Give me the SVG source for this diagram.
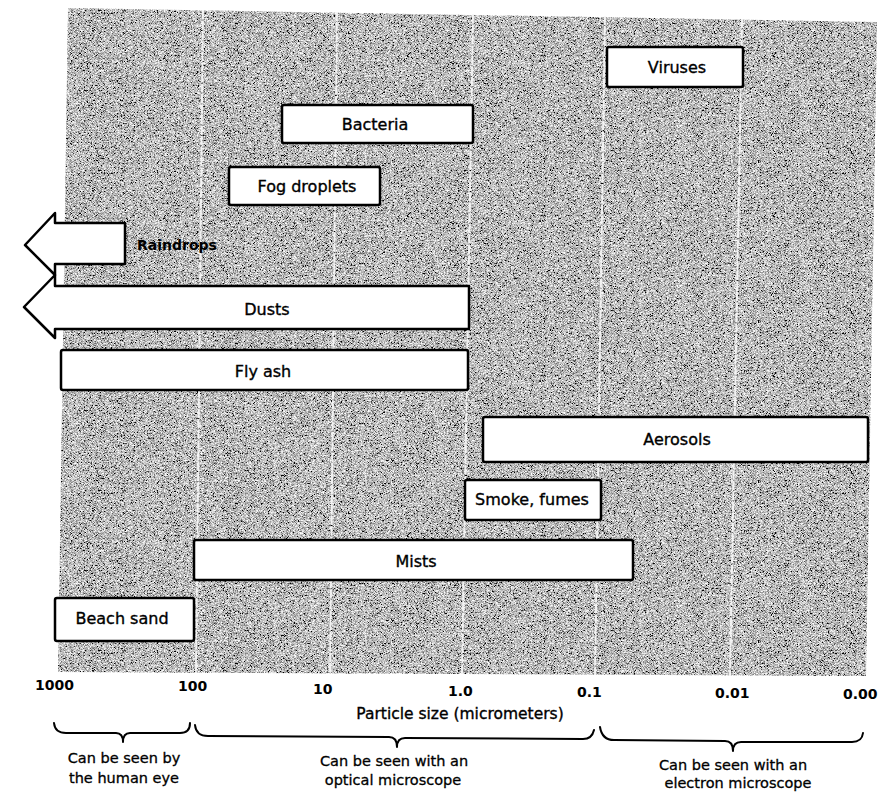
<svg xmlns="http://www.w3.org/2000/svg" width="881" height="795" viewBox="0 0 881 795">
<defs>
<filter id="grain" x="0" y="0" width="1" height="1" filterUnits="objectBoundingBox">
<feTurbulence type="fractalNoise" baseFrequency="0.7 1.6" numOctaves="2" seed="7" result="n"/>
<feColorMatrix in="n" type="matrix" values="2.1 0 0 0 -0.56  2.1 0 0 0 -0.56  2.1 0 0 0 -0.56  0 0 0 0 1" result="g"/>
<feComposite in="g" in2="SourceGraphic" operator="in"/>
</filter>
<style>
.bar{fill:#fff;stroke:#000;stroke-width:2.5;stroke-linejoin:round}
.lbl{font-family:"DejaVu Sans",Verdana,sans-serif;font-size:16px;fill:#000;stroke:#000;stroke-width:0.35;text-anchor:middle}
.num{font-family:"DejaVu Sans",Verdana,sans-serif;font-size:14px;font-weight:bold;fill:#000}
.cap{font-family:"DejaVu Sans",Verdana,sans-serif;font-size:14.5px;fill:#000;stroke:#000;stroke-width:0.3;text-anchor:middle}
.grid{stroke:#f6f6f6;stroke-width:2;opacity:0.95;stroke-dasharray:9 1.5}
.brace{fill:none;stroke:#000;stroke-width:2;stroke-linecap:round;stroke-linejoin:round}
</style>
</defs>
<rect width="881" height="795" fill="#fff"/>
<g id="background">
<polygon points="68,8 877,22 866,676 58,672" fill="#8f8f8f" filter="url(#grain)"/>
</g>
<g id="gridlines">
<line class="grid" x1="203" y1="10" x2="196" y2="673"/>
<line class="grid" x1="337" y1="12" x2="330" y2="673"/>
<line class="grid" x1="473" y1="14" x2="462" y2="674"/>
<line class="grid" x1="605" y1="16" x2="595" y2="675"/>
<line class="grid" x1="742" y1="19" x2="730" y2="676"/>
</g>
<g id="viruses"><rect class="bar" x="607" y="47" width="136" height="40" rx="2"/><text class="lbl" x="677" y="73">Viruses</text></g>
<g id="bacteria"><rect class="bar" x="282" y="105" width="191" height="38" rx="2"/><text class="lbl" x="375" y="130">Bacteria</text></g>
<g id="fog-droplets"><rect class="bar" x="229" y="167" width="151" height="38" rx="2"/><text class="lbl" x="307" y="192">Fog droplets</text></g>
<g id="raindrops"><polygon class="bar" points="125,223 55,223 55,213 25,245 55,275 55,264 125,264"/><text class="num" x="137" y="250" style="font-size:14px">Raindrops</text></g>
<g id="dusts"><polygon class="bar" points="469,286 55,286 55,275 24,307 55,338 55,329 469,329"/><text class="lbl" x="267" y="315">Dusts</text></g>
<g id="fly-ash"><rect class="bar" x="61" y="350" width="407" height="40" rx="2"/><text class="lbl" x="263" y="377">Fly ash</text></g>
<g id="aerosols"><rect class="bar" x="483" y="417" width="385" height="45" rx="2"/><text class="lbl" x="677" y="445">Aerosols</text></g>
<g id="smoke-fumes"><rect class="bar" x="465" y="480" width="136" height="40" rx="2"/><text class="lbl" x="532" y="505">Smoke, fumes</text></g>
<g id="mists"><rect class="bar" x="194" y="540" width="439" height="40" rx="2"/><text class="lbl" x="416" y="567">Mists</text></g>
<g id="beach-sand"><rect class="bar" x="55" y="598" width="139" height="43" rx="2"/><text class="lbl" x="122" y="624">Beach sand</text></g>
<g id="axis">
<text class="num" x="35" y="690">1000</text>
<text class="num" x="178" y="691">100</text>
<text class="num" x="313" y="694">10</text>
<text class="num" x="448" y="696">1.0</text>
<text class="num" x="577" y="697">0.1</text>
<text class="num" x="715" y="698">0.01</text>
<text class="num" x="843" y="699">0.00</text>
<text class="lbl" x="460" y="719" style="font-size:15.5px">Particle size (micrometers)</text>
</g>
<g id="connectors">
<path class="brace" d="M54,723 Q55,733 66,733 L116,733 Q123,733 123,742 Q123,733 130,733 L180,733 Q190,733 190,723"/>
<path class="brace" d="M195,725 Q196,736 208,736 L389,737 Q397,737 397,747 Q397,738 405,738 L583,739 Q592,739 594,730"/>
<path class="brace" d="M600,727 Q602,740 614,740 L725,741 Q733,741 733,751 Q733,742 741,742 L852,742 Q862,742 863,733"/>
</g>
<g id="captions">
<text class="cap" x="124" y="763">Can be seen by</text>
<text class="cap" x="124" y="783">the human eye</text>
<text class="cap" x="394" y="766">Can be seen with an</text>
<text class="cap" x="393" y="785">optical microscope</text>
<text class="cap" x="733" y="770">Can be seen with an</text>
<text class="cap" x="738" y="788">electron microscope</text>
</g>
</svg>
